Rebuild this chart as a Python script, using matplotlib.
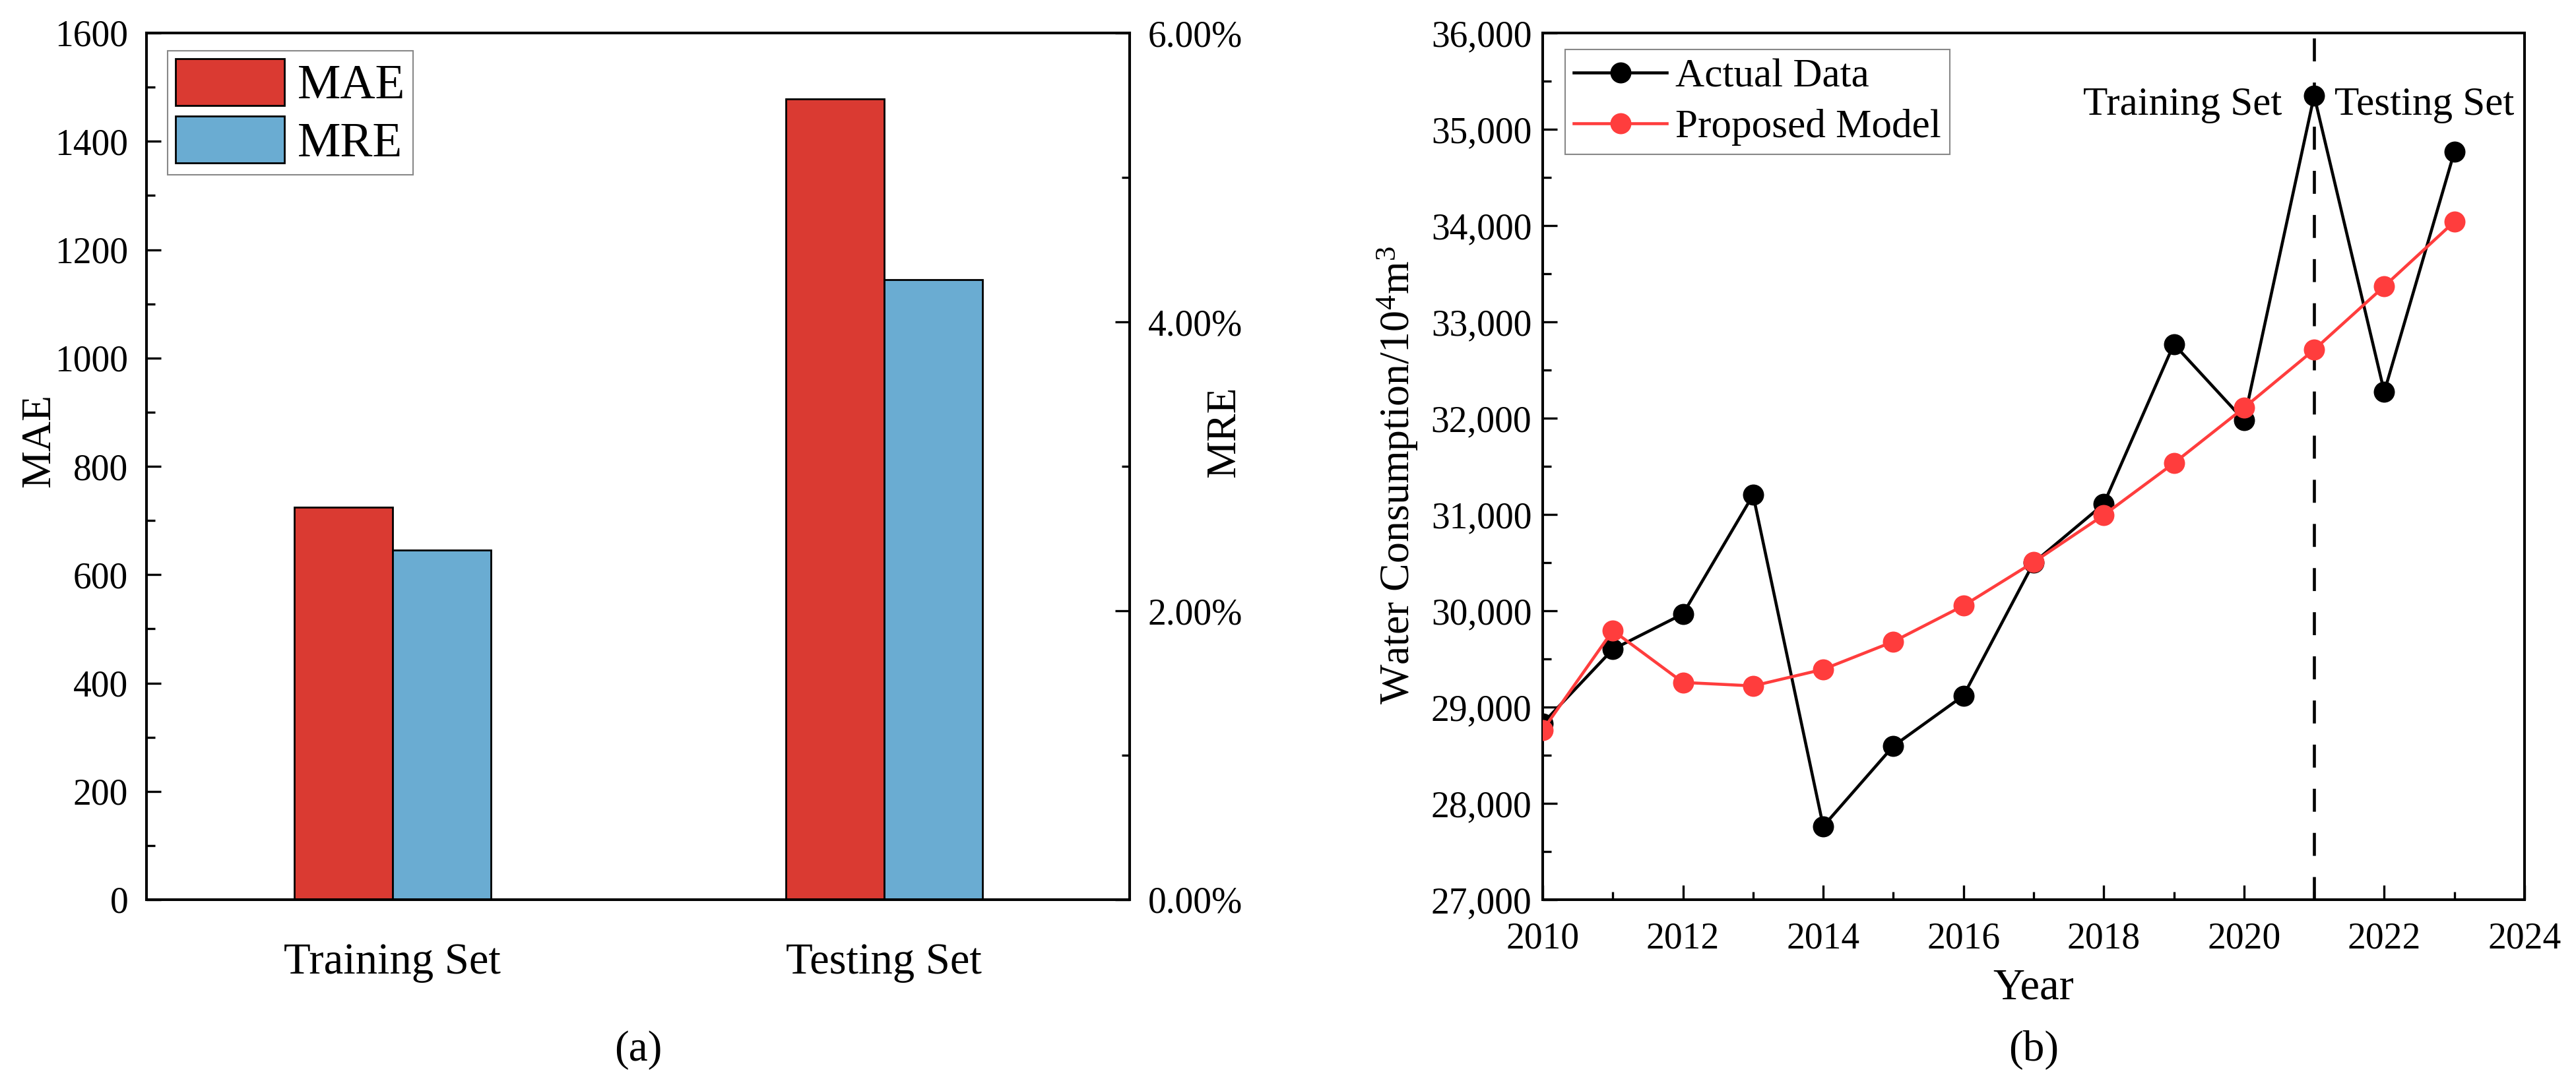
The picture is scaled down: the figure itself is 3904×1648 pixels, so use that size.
import matplotlib
matplotlib.use("Agg")
import matplotlib.pyplot as plt
from matplotlib.ticker import MultipleLocator, FuncFormatter
from matplotlib.patches import Patch

plt.rcParams['font.family'] = ['Liberation Serif', 'DejaVu Serif']
plt.rcParams['mathtext.fontset'] = 'custom'
plt.rcParams['mathtext.rm'] = 'Liberation Serif'
plt.rcParams['mathtext.default'] = 'regular'

# ---- data (a) ----
categories = ['Training Set', 'Testing Set']
mae_values = [724, 1478]
mre_values = [2.42, 4.29]   # percent

# ---- data (b) ----
years = [2010, 2011, 2012, 2013, 2014, 2015, 2016, 2017, 2018, 2019, 2020, 2021, 2022, 2023]
actual = [28830, 29600, 29967, 31203, 27762, 28595, 29119, 30499, 31109, 32769, 31978, 35349, 32273, 34767]
model = [28760, 29795, 29256, 29220, 29392, 29680, 30053, 30505, 30994, 31533, 32108, 32711, 33370, 34041]
split_year = 2021

RED_BAR = '#DA3A32'
BLUE_BAR = '#6AACD2'
RED_LINE = '#FF3D3D'

W, H = 3904, 1648
fig = plt.figure(figsize=(W / 100, H / 100), dpi=100)

def ax_rect(l, r, t, b):
    return [l / W, 1 - b / H, (r - l) / W, (b - t) / H]

SPW = 2.9
TICK_FS = 40

# ================= panel (a) =================
ax = fig.add_axes(ax_rect(222, 1712, 50, 1364))
ax2 = ax.twinx()
x = list(range(len(categories)))
bw = 0.2
ax.bar([i - bw / 2 for i in x], mae_values, width=bw, color=RED_BAR,
       edgecolor='black', linewidth=2.0, zorder=2)
ax2.bar([i + bw / 2 for i in x], mre_values, width=bw, color=BLUE_BAR,
        edgecolor='black', linewidth=2.0, zorder=2)
ax.set_xlim(-0.5, 1.5)
ax.set_ylim(0, 1600)
ax2.set_ylim(0, 6)
ax.yaxis.set_major_locator(MultipleLocator(200))
ax.yaxis.set_minor_locator(MultipleLocator(100))
ax2.yaxis.set_major_locator(MultipleLocator(2))
ax2.yaxis.set_minor_locator(MultipleLocator(1))
ax2.yaxis.set_major_formatter(FuncFormatter(lambda v, p: f"{v:.2f}%"))
ax.set_xticks(x)
ax.set_xticklabels(categories, fontsize=48)
ax.tick_params(axis='x', length=0, pad=47)
ax.tick_params(axis='y', which='major', direction='in', length=16, width=2.4,
               labelsize=TICK_FS, pad=20)
ax.tick_params(axis='y', which='minor', direction='in', length=9, width=2.4)
ax2.tick_params(axis='y', which='major', direction='in', length=16, width=2.4,
                labelsize=TICK_FS, pad=20)
ax2.tick_params(axis='y', which='minor', direction='in', length=9, width=2.4)
for a in (ax, ax2):
    for s in a.spines.values():
        s.set_linewidth(SPW)
        s.set_color('black')
ax.set_ylabel('MAE', fontsize=46)
ax.yaxis.set_label_coords(-0.089, 0.530)
ax2.set_ylabel('MRE', fontsize=46)
ax2.yaxis.set_label_coords(1.077, 0.54)

handles = [Patch(facecolor=RED_BAR, edgecolor='black', linewidth=2.0, label='MAE'),
           Patch(facecolor=BLUE_BAR, edgecolor='black', linewidth=2.0, label='MRE')]
leg = ax2.legend(handles=handles, loc='upper left', bbox_to_anchor=(0.0215, 0.9795),
                 borderaxespad=0, fontsize=53, handlelength=2.25, handleheight=1.11,
                 handletextpad=0.27, borderpad=0.16, labelspacing=0.15,
                 fancybox=False, framealpha=1, edgecolor='#888888')
leg.get_frame().set_linewidth(1.5)

fig.text((222 + 1712) / 2 / W, 1 - 1592 / H, '(a)', fontsize=47, ha='center', va='center')

# ================= panel (b) =================
bx = fig.add_axes(ax_rect(2338, 3826, 50, 1364))
bx.axvline(split_year, color='black', lw=3.3, dashes=(7.6, 7.0), zorder=1)
bx.plot(years, actual, color='black', lw=3.3, marker='o', markersize=23,
        markeredgewidth=0, label='Actual Data', zorder=3)
bx.plot(years, model, color=RED_LINE, lw=3.3, marker='o', markersize=23,
        markeredgewidth=0, label='Proposed Model', zorder=4)
bx.set_xlim(2010, 2024)
bx.set_ylim(27000, 36000)
bx.xaxis.set_major_locator(MultipleLocator(2))
bx.xaxis.set_minor_locator(MultipleLocator(1))
bx.yaxis.set_major_locator(MultipleLocator(1000))
bx.yaxis.set_minor_locator(MultipleLocator(500))
bx.yaxis.set_major_formatter(FuncFormatter(lambda v, p: f"{int(v):,}"))
bx.tick_params(axis='both', which='major', direction='in', length=16, width=2.4,
               labelsize=TICK_FS)
bx.tick_params(axis='both', which='minor', direction='in', length=9, width=2.4)
bx.tick_params(axis='x', pad=24)
bx.tick_params(axis='y', pad=12)
for s in bx.spines.values():
    s.set_linewidth(SPW)
    s.set_color('black')
bx.set_xlabel('Year', fontsize=48, labelpad=13)
bx.set_ylabel('Water Consumption/10$^4$m$^3$', fontsize=46)
bx.yaxis.set_label_coords(-0.125, 0.49)

bx.text(2020.54, 35150, 'Training Set', fontsize=44, ha='right', va='baseline')
bx.text(2021.29, 35150, 'Testing Set', fontsize=44, ha='left', va='baseline')

leg2 = bx.legend(loc='upper left', bbox_to_anchor=(0.0228, 0.981), borderaxespad=0,
                 fontsize=44, handlelength=2.3, handletextpad=0.21, borderpad=0.22,
                 labelspacing=0.34, fancybox=False, framealpha=1, edgecolor='#888888')
leg2.get_frame().set_linewidth(1.5)

fig.text((2338 + 3826) / 2 / W, 1 - 1592 / H, '(b)', fontsize=47, ha='center', va='center')

fig.savefig('out.png', dpi=100)
